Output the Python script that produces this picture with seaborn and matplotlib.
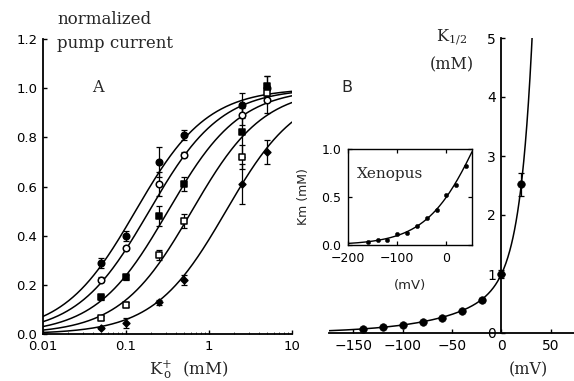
import numpy as np
import pandas as pd
import matplotlib
matplotlib.use("Agg")
import matplotlib.pyplot as plt
import seaborn as sns

sns.set_theme(style="ticks")
plt.rcParams['font.family'] = ['DejaVu Sans']
plt.rcParams['mathtext.fontset'] = 'dejavuserif'

# ---- Panel A: normalized pump current vs external K+ ----
k_conc = [0.05, 0.1, 0.25, 0.5, 2.5, 5.0]
current_s1 = [0.29, 0.40, 0.70, 0.81, 0.93, 1.00]
current_s2 = [0.22, 0.35, 0.61, 0.73, 0.89, 0.95]
current_s3 = [0.15, 0.23, 0.48, 0.61, 0.82, 1.01]
current_s4 = [0.065, 0.12, 0.32, 0.46, 0.72, 0.98]
current_s5 = [0.025, 0.045, 0.13, 0.22, 0.61, 0.74]
err_s1 = [0.02, 0.02, 0.06, 0.02, 0.05, 0.05]
err_s2 = [0.01, 0.01, 0.05, 0.01, 0.04, 0.05]
err_s3 = [0.01, 0.01, 0.04, 0.03, 0.10, 0.04]
err_s4 = [0.01, 0.01, 0.02, 0.03, 0.05, 0.03]
err_s5 = [0.005, 0.02, 0.01, 0.02, 0.08, 0.05]
k_half_fits = [0.13, 0.19, 0.32, 0.62, 1.6]

# ---- Panel B: K1/2 vs membrane potential ----
voltage_b = [-140, -120, -100, -80, -60, -40, -20, 0, 20]
k_half_b = [0.07, 0.11, 0.14, 0.18, 0.26, 0.38, 0.56, 1.0, 2.52]
err_b = [0.0, 0.0, 0.0, 0.0, 0.0, 0.0, 0.03, 0.07, 0.2]
# two-exponential description of the voltage dependence
fit_b_amp = [0.72, 0.28]
fit_b_slope = [60.0, 11.9]

# ---- Inset: Xenopus Km vs voltage ----
voltage_inset = [-160, -140, -120, -100, -80, -60, -40, -20, 0, 20, 40]
km_inset = [0.03, 0.05, 0.05, 0.11, 0.13, 0.20, 0.28, 0.36, 0.52, 0.63, 0.82]
fit_inset = dict(a=0.63, c=0.26, s=55.0)

W, H = 574, 381
fig = plt.figure(figsize=(W / 100, H / 100), dpi=100)


def px(x0, y0, x1, y1):
    return [x0 / W, 1 - y1 / H, (x1 - x0) / W, (y1 - y0) / H]


serif = ['DejaVu Serif']

# ================= Panel A =================
axA = fig.add_axes(px(43, 39, 292, 334))
kk = np.logspace(-2, 1, 300)
for kh in k_half_fits:
    df = pd.DataFrame({"k": kk, "i": kk / (kk + kh)})
    sns.lineplot(data=df, x="k", y="i", color="black", lw=1.1, ax=axA)

series = [
    (current_s1, err_s1, 'o', 'black', 22),
    (current_s2, err_s2, 'o', 'white', 22),
    (current_s3, err_s3, 's', 'black', 18),
    (current_s4, err_s4, 's', 'white', 18),
    (current_s5, err_s5, 'D', 'black', 12),
]
for vals, errs, mk, fc, sz in series:
    axA.errorbar(k_conc, vals, yerr=errs, fmt='none', ecolor='black',
                 elinewidth=0.9, capsize=2, capthick=0.9, zorder=3)
    sns.scatterplot(x=k_conc, y=vals, marker=mk, s=sz, facecolor=fc,
                    edgecolor='black', linewidth=1.1, zorder=4, ax=axA)

axA.set_xscale('log')
axA.set_xlim(0.01, 10)
axA.set_ylim(0, 1.2)
axA.set_xticks([0.01, 0.1, 1, 10])
axA.set_xticklabels(["0.01", "0.1", "1", "10"])
axA.set_yticks([0.0, 0.2, 0.4, 0.6, 0.8, 1.0, 1.2])
axA.set_yticklabels(["0.0", "0.2", "0.4", "0.6", "0.8", "1.0", "1.2"])
axA.tick_params(direction='in', length=3, width=1, labelsize=9.5, pad=4,
                colors='black')
axA.tick_params(which='minor', direction='in', length=1.5, width=0.6)
axA.set_xlabel("")
axA.set_ylabel("")
sns.despine(ax=axA)
for sp in ('left', 'bottom'):
    axA.spines[sp].set_linewidth(1.3)
    axA.spines[sp].set_color('black')
axA.set_facecolor('none')

# ================= Panel B =================
axB = fig.add_axes(px(328.8, 38, 575.5, 333))
vv = np.linspace(-175, 33, 400)
kv = fit_b_amp[0] * np.exp(vv / fit_b_slope[0]) + fit_b_amp[1] * np.exp(vv / fit_b_slope[1])
sns.lineplot(x=vv, y=kv, color='black', lw=1.1, ax=axB)
axB.errorbar(voltage_b, k_half_b, yerr=err_b, fmt='none', ecolor='black',
             elinewidth=0.9, capsize=2, capthick=0.9, zorder=3)
sns.scatterplot(x=voltage_b, y=k_half_b, marker='o', s=30, color='black',
                edgecolor='black', zorder=4, ax=axB)
axB.set_xlim(-175, 75)
axB.set_ylim(0, 5)
axB.set_xticks([-150, -100, -50, 0, 50])
axB.set_yticks([0, 1, 2, 3, 4, 5])
axB.tick_params(direction='in', length=3, width=1, labelsize=10, pad=4,
                colors='black')
sns.despine(ax=axB)
axB.spines['left'].set_position(('data', 0))
for sp in ('left', 'bottom'):
    axB.spines[sp].set_linewidth(1.3)
    axB.spines[sp].set_color('black')
axB.set_facecolor('none')

# ================= Inset =================
axI = fig.add_axes(px(348, 149, 472, 245))
vi = np.linspace(-200, 52, 300)
ei = np.exp(vi / fit_inset['s'])
sns.lineplot(x=vi, y=fit_inset['a'] * ei / (1 + fit_inset['c'] * ei),
             color='black', lw=1.0, ax=axI)
sns.scatterplot(x=voltage_inset, y=km_inset, marker='o', s=10, color='black',
                edgecolor='black', zorder=4, ax=axI)
axI.set_xlim(-200, 52)
axI.set_ylim(0, 1.0)
axI.set_xticks([-200, -100, 0])
axI.set_yticks([0.0, 0.5, 1.0])
axI.set_yticklabels(["0.0", "0.5", "1.0"])
axI.tick_params(direction='in', length=3, width=0.9, labelsize=9, pad=5,
                top=True, right=True, colors='black')
for sp in axI.spines.values():
    sp.set_linewidth(1.0)
    sp.set_color('black')
axI.set_facecolor('white')
axI.text(0.07, 0.74, "Xenopus", transform=axI.transAxes, fontsize=11,
         family=serif, va='center')


def ftext(x, y, s, **kw):
    fig.text(x / W, 1 - y / H, s, **kw)


ftext(57, 20, "normalized", fontsize=12, family=serif,
      va='center', ha='left')
ftext(57, 43, "pump current", fontsize=12, family=serif,
      va='center', ha='left')
ftext(98, 88, "A", fontsize=11.5, family=serif, va='center', ha='center')
ftext(347, 88, "B", fontsize=11.5, va='center', ha='center')
ftext(189, 370, r"K$^{+}_{\,\mathrm{o}}$  (mM)", fontsize=12, family=serif,
      va='center', ha='center')
ftext(528, 370, "(mV)", fontsize=11.5, family=serif, va='center', ha='center')
ftext(452, 38, r"K$_{1/2}$", fontsize=11.5, family=serif, va='center', ha='center')
ftext(452, 65, "(mM)", fontsize=11.5, family=serif, va='center', ha='center')
ftext(303, 197, "Km (mM)", fontsize=9, rotation=90, va='center', ha='center')
ftext(410, 285, "(mV)", fontsize=9.5, va='center', ha='center')

fig.savefig("out.png", dpi=100, facecolor='white')
